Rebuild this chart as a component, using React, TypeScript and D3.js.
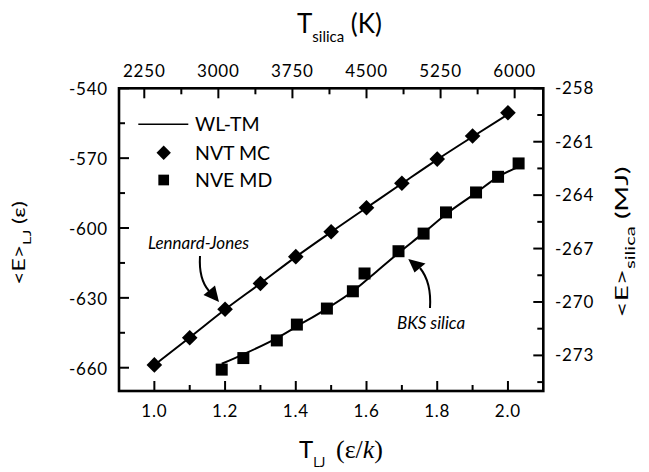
import React from "react";
import * as d3 from "d3";

// ---------- data ----------
const ljTemps = [1.0, 1.1, 1.2, 1.3, 1.4, 1.5, 1.6, 1.7, 1.8, 1.9, 2.0];
const ljEnergyMC = [-658.8, -647.1, -634.9, -623.8, -612.3, -601.6, -591.3, -580.8, -570.4, -560.5, -550.5];
const ljEnergyWLTM = [-658.8, -647.0, -635.0, -623.8, -612.4, -601.7, -591.3, -580.9, -570.6, -560.8, -551.2];

const bksTempsMD = [3034, 3253, 3592, 3795, 4099, 4362, 4480, 4824, 5078, 5305, 5609, 5832, 6040];
const bksEnergyMD = [-273.8, -273.15, -272.16, -271.27, -270.37, -269.4, -268.4, -267.15, -266.16, -264.97, -263.85, -262.97, -262.22];

const bksTempsWLTM = [3034, 3253, 3592, 3795, 4099, 4362, 4600, 4824, 5078, 5305, 5609, 5832, 6040];
const bksEnergyWLTM = [-273.47, -272.94, -272.03, -271.37, -270.37, -269.4, -268.3, -267.25, -266.12, -265.07, -263.87, -262.97, -262.41];

const bottomTicks = [1.0, 1.2, 1.4, 1.6, 1.8, 2.0];
const bottomMinor = [1.1, 1.3, 1.5, 1.7, 1.9];
const topTicks = [2250, 3000, 3750, 4500, 5250, 6000];
const topMinor = [2625, 3375, 4125, 4875, 5625];
const leftTicks = [-540, -570, -600, -630, -660];
const leftMinor = [-555, -585, -615, -645];
const rightTicks = [-258, -261, -264, -267, -270, -273];
const rightMinor = [-259.5, -262.5, -265.5, -268.5, -271.5, -274.5];

const legendLabels = ["WL-TM", "NVT MC", "NVE MD"];

// ---------- layout ----------
const W = 649;
const H = 472;
const L = 119;
const R = 543.3;
const T = 88.3;
const B = 391;
const FONT = "Lato, 'Open Sans', sans-serif";

export default function App() {
  const x = d3.scaleLinear().domain([0.9, 2.1]).range([L, R]);
  const xTop = d3.scaleLinear().domain([1994, 6290]).range([L, R]);
  const yL = d3.scaleLinear().domain([-670, -540]).range([B, T]);
  const yR = d3.scaleLinear().domain([-275, -258]).range([B, T]);

  const ljLine = d3
    .line<number>()
    .x((_, i) => x(ljTemps[i]))
    .y((d) => yL(d))
    .curve(d3.curveMonotoneX)(ljEnergyWLTM) as string;

  const bksLine = d3
    .line<number>()
    .x((_, i) => xTop(bksTempsWLTM[i]))
    .y((d) => yR(d))
    .curve(d3.curveMonotoneX)(bksEnergyWLTM) as string;

  const diamond = (r: number) => `M0,${-r}L${r},0L0,${r}L${-r},0Z`;
  const square = d3.symbol(d3.symbolSquare, 12 * 12)() as string;
  const squareLeg = d3.symbol(d3.symbolSquare, 10.7 * 10.7)() as string;

  const MAJ = 10;
  const MIN = 6;
  const tickStyle = { stroke: "#000", strokeWidth: 2 };
  const labelStyle: React.CSSProperties = {
    fontFamily: FONT,
    fontSize: 17,
    letterSpacing: 0.8,
    fill: "#000",
  };

  return (
    <svg
      width={W}
      height={H}
      viewBox={`0 0 ${W} ${H}`}
      style={{ position: "absolute", left: 0, top: 0, background: "#fff" }}
    >
      <rect x={0} y={0} width={W} height={H} fill="#fff" />

      {/* ticks */}
      {bottomTicks.map((t) => (
        <g key={"bt" + t}>
          <line x1={x(t)} x2={x(t)} y1={B} y2={B - MAJ} {...tickStyle} />
          <text x={x(t)} y={417} textAnchor="middle" style={labelStyle}>
            {t.toFixed(1)}
          </text>
        </g>
      ))}
      {bottomMinor.map((t) => (
        <line key={"bm" + t} x1={x(t)} x2={x(t)} y1={B} y2={B - MIN} {...tickStyle} />
      ))}
      {topTicks.map((t) => (
        <g key={"tt" + t}>
          <line x1={xTop(t)} x2={xTop(t)} y1={T} y2={T + MAJ} {...tickStyle} />
          <text x={xTop(t)} y={77} textAnchor="middle" style={labelStyle}>
            {t}
          </text>
        </g>
      ))}
      {topMinor.map((t) => (
        <line key={"tm" + t} x1={xTop(t)} x2={xTop(t)} y1={T} y2={T + MIN} {...tickStyle} />
      ))}
      {leftTicks.map((t) => (
        <g key={"lt" + t}>
          <line x1={L} x2={L + MAJ} y1={yL(t)} y2={yL(t)} {...tickStyle} />
          <text x={108} y={yL(t) + 7} textAnchor="end" style={labelStyle}>
            {t}
          </text>
        </g>
      ))}
      {leftMinor.map((t) => (
        <line key={"lm" + t} x1={L} x2={L + MIN} y1={yL(t)} y2={yL(t)} {...tickStyle} />
      ))}
      {rightTicks.map((t) => (
        <g key={"rt" + t}>
          <line x1={R} x2={R - MAJ} y1={yR(t)} y2={yR(t)} {...tickStyle} />
          <text x={555} y={yR(t) + 6} textAnchor="start" style={labelStyle}>
            {t}
          </text>
        </g>
      ))}
      {rightMinor.map((t) => (
        <line key={"rm" + t} x1={R} x2={R - MIN} y1={yR(t)} y2={yR(t)} {...tickStyle} />
      ))}

      {/* frame */}
      <rect x={L} y={T} width={R - L} height={B - T} fill="none" stroke="#000" strokeWidth={2.6} />

      {/* lines */}
      <path d={ljLine} fill="none" stroke="#000" strokeWidth={2} />
      <path d={bksLine} fill="none" stroke="#000" strokeWidth={2} />

      {/* markers */}
      {ljEnergyMC.map((e, i) => (
        <path key={"d" + i} d={diamond(7.8)} transform={`translate(${x(ljTemps[i])},${yL(e)})`} fill="#000" />
      ))}
      {bksEnergyMD.map((e, i) => (
        <path key={"s" + i} d={square} transform={`translate(${xTop(bksTempsMD[i])},${yR(e)})`} fill="#000" />
      ))}

      {/* legend */}
      <line x1={138.3} x2={188.3} y1={124.3} y2={124.3} stroke="#000" strokeWidth={1.6} />
      <path d={diamond(7.2)} transform="translate(163.7,152.7)" fill="#000" />
      <path d={squareLeg} transform="translate(163.7,180)" fill="#000" />
      {legendLabels.map((lab, i) => (
        <text key={lab} x={195} y={[131, 159.5, 187][i]} style={{ fontFamily: FONT, fontSize: 19.5, fill: "#000" }}>
          {lab}
        </text>
      ))}

      {/* annotations */}
      <text x={148} y={249} style={{ fontFamily: FONT, fontSize: 17, fontStyle: "italic", fill: "#000" }}>
        Lennard-Jones
      </text>
      <path d="M200,256 C199,272 202,283 209,291" fill="none" stroke="#000" strokeWidth={2} />
      <path d="M219,302 L203.5,295 L215,285.5 Z" fill="#000" />

      <text x={397} y={329} style={{ fontFamily: FONT, fontSize: 17, fontStyle: "italic", fill: "#000" }}>
        BKS silica
      </text>
      <path d="M430,308 C431,292 429,279 420,268" fill="none" stroke="#000" strokeWidth={2} />
      <path d="M408.3,259 L414.5,272.5 L425.5,263.5 Z" fill="#000" />

      {/* axis titles */}
      <text x={297} y={33} style={{ fontFamily: FONT, fontSize: 26, fill: "#000" }}>
        T
        <tspan fontSize={15} dy={9}>silica</tspan>
        <tspan fontSize={26} dy={-9}> (K)</tspan>
      </text>

      <text x={299} y={458} style={{ fontFamily: FONT, fontSize: 24, fill: "#000" }}>
        T<tspan fontSize={13} dy={9}>LJ</tspan>
      </text>
      <text x={336} y={458} style={{ fontFamily: "'Liberation Serif', 'Times New Roman', serif", fontSize: 26, fill: "#000" }}>
        (ε/<tspan fontStyle="italic">k</tspan>)
      </text>

      <g transform="translate(25,243) rotate(-90) scale(1.35,1)">
        <text textAnchor="middle" style={{ fontFamily: FONT, fontSize: 17, fill: "#000" }}>
          {"<E>"}
          <tspan fontSize={12} dy={6}>LJ</tspan>
          <tspan fontSize={17} dy={-6}> (ε)</tspan>
        </text>
      </g>

      <g transform="translate(628,242) rotate(-90) scale(1.55,1)">
        <text textAnchor="middle" style={{ fontFamily: FONT, fontSize: 18, fill: "#000" }}>
          {"<E>"}
          <tspan fontSize={13} dy={7}>silica</tspan>
          <tspan fontSize={18} dy={-7}> (MJ)</tspan>
        </text>
      </g>
    </svg>
  );
}
